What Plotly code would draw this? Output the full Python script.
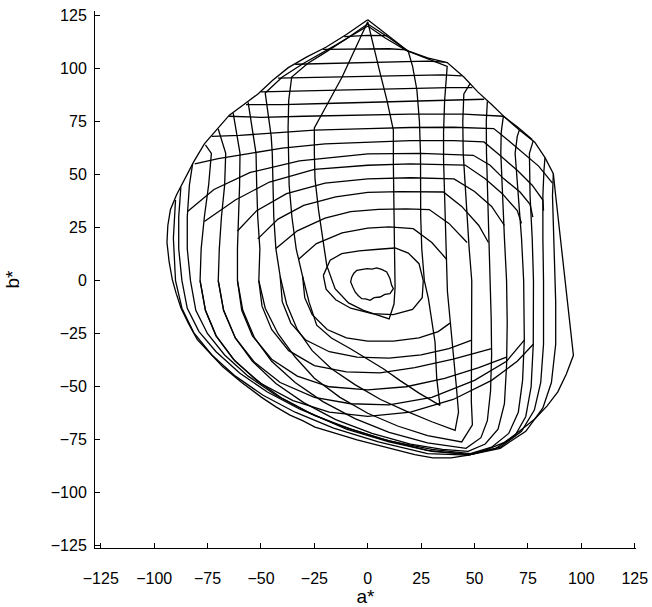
import plotly.graph_objects as go

# ---- data (a*, b*) ----
boundary_ab = [(0,123),(10,115),(18.8,108.3),(28,105),(37.2,102.8),(45,96),(51.4,89.1),(58,83),(64,77.2),(71,71),(78.2,65.3),(83,58),(86.9,50.4),(88,40),(89.1,30),(90.2,20),(91.3,10),(92.4,0),(93.5,-10),(94.5,-20),(95.5,-28),(96.3,-35.2),(93,-44),(89,-52.4),(84,-59),(78.2,-65.2),(71,-71),(64,-76.2),(56,-79.5),(47.2,-82.2),(39,-83.5),(30.5,-83.5),(22,-82),(13.8,-79.8),(4,-77.5),(-5,-75),(-15,-72),(-24.7,-69),(-30.5,-66),(-36.4,-63.4),(-43,-59.5),(-49.7,-55),(-59,-48),(-68,-40.5),(-74,-34),(-79.8,-27.8),(-84,-20),(-87.4,-13),(-89.7,-6),(-91.5,0.5),(-93,9),(-94,18),(-93.6,26),(-92.4,33.4),(-89.5,40.5),(-85.7,48),(-81.5,56),(-76.5,64.5),(-71,71),(-64.8,78),(-58,83),(-51.4,88),(-44.5,94.5),(-37.2,100.4),(-28.5,105.5),(-19.6,110),(-10,116),(0,123)]

ring_c1 = [(-7.5,1.7),(-6.5,3.5),(-5.1,4.9),(-2.5,5.2),(-0.3,5.7),(2,5.4),(4.2,6.0),(6.5,5.3),(8.9,4.1),(10.4,1.0),(11.2,-2.2),(12.0,-3.8),(10.4,-6.1),(8,-6.5),(5.8,-7.7),(3,-8.0),(1.1,-9.3),(-1,-8.6),(-2.8,-8.5),(-4.5,-7),(-5.9,-5.3),(-7,-3),(-8,-0.6),(-7.5,1.7)]
ring_c2 = [(-20.8,2.5),(-17.6,9.6),(-12.2,12.7),(-4,14),(5,14.8),(12.8,15.4),(19,13),(24,8),(26,0),(25.5,-8),(21,-13.5),(12,-16),(2,-15.5),(-8,-13),(-15,-9),(-19.5,-4),(-20.8,2.5)]

v_line_1 = [(0,122),(-6,109),(-12,96),(-18.5,84),(-25,72),(-25,60),(-24.7,48),(-23,33),(-20.8,18),(-19.2,7.2),(-15.3,-3.8),(-9,-10.5),(-2,-14),(4,-16),(10,-18),(12.3,-11),(12.8,-3),(12.6,10),(12.3,25),(12,40),(12,55),(12,71),(9,85),(5.5,99),(2.5,111),(0,122)]
v_line_2 = [(0,121),(-10,114),(-20,107.5),(-28,102.5),(-35.6,96),(-37,85),(-37.3,72),(-37.2,60),(-36.8,45),(-35.5,30),(-33.5,15),(-30.5,2),(-27.5,-10),(-23.9,-21),(-17,-27),(-8.3,-32),(0,-37),(7.3,-41.5),(15,-47),(24,-53),(33.8,-58.8),(32.8,-50),(32.3,-46.2),(31.5,-28.9),(30,-17.9),(28.4,-8.5),(26.5,0),(25.3,15),(24.8,30),(24.7,45),(24.7,60),(24.2,75),(23,90),(21,101),(19,108),(10,114.5),(0,121)]
v_line_3 = [(0,120),(-15,111),(-30,102.5),(-40,96),(-48,88.5),(-46.5,78),(-45.2,68),(-44.7,60),(-44.5,45),(-44,30),(-43,15),(-41,2),(-38,-11),(-33,-23),(-26,-33),(-17,-41.5),(-6,-49),(6,-56),(18,-61.5),(30,-66.5),(40.9,-70.6),(42.5,-62),(41.5,-50),(40,-35),(38.5,-20),(37.3,-5),(37,5),(36.5,20),(36,40),(35.5,57),(35.5,70),(36,85),(37.2,101),(28,104.5),(18,108.5),(8,114.5),(0,120)]
v_line_4 = [(-56,84),(-54,72),(-52.3,60),(-52,45),(-51.5,30),(-50.5,15),(-51,0),(-48,-13),(-42,-25),(-34,-36),(-25,-46),(-13,-55),(0,-62.5),(14,-68.5),(28,-73),(44,-76),(49,-68),(48.5,-57),(48.5,-45),(48.7,-32),(48.8,-15),(48.7,0),(47.5,15),(46.5,30),(45.5,45),(44.7,60),(44.5,75),(45,88),(48,93)]
v_line_5 = [(-63,79),(-61,68),(-59.8,60),(-60,45),(-60.5,30),(-61,15),(-61,0),(-58.5,-14),(-53,-27),(-45,-38),(-34,-48),(-21,-57),(-6,-65),(10,-71.5),(28,-76.5),(46,-79),(53,-74),(56,-66),(57.5,-52),(58,-35),(57.8,-18),(57.3,0),(56.5,20),(56,40),(55.6,60),(55.5,75),(56,84.5)]
v_line_6 = [(-70,71.5),(-68,65),(-66.5,60),(-67,45),(-68.5,30),(-69.5,15),(-70,0),(-67.5,-14),(-62,-27),(-54,-38),(-43,-48.5),(-30,-57.5),(-15,-65.5),(2,-72),(20,-77),(35,-79.5),(47,-80.5),(55,-77),(61,-70),(64,-58),(65,-40),(65.3,-20),(65,0),(64,20),(63,40),(62.3,60),(62.5,70),(63.5,77.5)]
v_line_7 = [(-76,64),(-74.5,62),(-73.2,60),(-74.5,45),(-76.5,30),(-78,15),(-78.5,0),(-76,-14),(-71,-26),(-63,-37),(-52,-47),(-40,-55.5),(-25,-63.5),(-8,-70),(10,-75.5),(30,-79.5),(48,-81.5),(58,-78.5),(66,-72),(70.5,-62),(72.5,-47),(73.3,-28),(73,-10),(73,0),(72,20),(70.5,40),(69,60),(70,68),(71,71)]
v_line_8 = [(-82,55),(-83.5,45),(-84.5,30),(-84.5,15),(-83,0),(-80.5,-14),(-75,-25),(-67,-35),(-56,-45),(-43,-54),(-28,-62),(-10,-70),(10,-76),(30,-80.5),(48,-82),(60,-79),(69,-73),(74,-64),(76.5,-50),(77.5,-30),(77.6,0),(77,20),(76,40),(75.7,60),(77.5,66)]
v_line_9 = [(-87.5,44),(-88.5,30),(-88.5,15),(-87,0),(-84.5,-13),(-79,-24),(-71,-33.5),(-60,-43.5),(-47,-52.5),(-32,-60.5),(-14,-68),(6,-74.5),(28,-80),(48,-82),(62,-78.5),(72,-71),(78,-61),(81,-48),(82.3,-30),(82.5,-10),(82.3,0),(82,20),(82,40),(82.5,52),(83,58)]
v_line_10 = [(-90,38),(-91,20),(-90,0),(-87,-13),(-81.5,-24.5),(-73,-35),(-62,-45),(-49,-54),(-34,-62),(-16,-69.5),(5,-76),(28,-81.5),(47,-82.2),(62,-79),(74,-71),(82,-60),(86,-48),(88,-30),(88,-10),(87.7,0),(87,20),(86.5,40),(86.9,50.4)]

h_top_3 = [(-32.5,10),(-24,17.5),(-12,22.5),(0,24.8),(10,25.4),(21.3,24.5),(30,18),(37,10)]
h_top_4 = [(-43,15.2),(-33,23.5),(-20,29.5),(-8,32.5),(5,33.6),(18,33.8),(28.8,33.5),(38,27),(46.5,18)]
h_top_5 = [(-51.5,19.7),(-42,29),(-30,35.5),(-15,39.5),(0,41.6),(15,42),(35.4,41.8),(44,35),(52,26),(56.5,18)]
h_top_6 = [(-61,23.4),(-52,33),(-38,41),(-20,46),(0,48),(20,48.5),(40.4,48),(50,42),(58,35),(64,26)]
h_top_7 = [(-76.5,27.9),(-62,38),(-46,46.5),(-25,52.5),(0,54.4),(20,55),(45.6,54.5),(55,48),(63,41),(70,33),(72,27)]
h_top_8 = [(-84.5,32.5),(-72,43),(-55,51),(-32,56.5),(0,59.8),(25,60),(49.4,59.1),(57.3,54.4),(63.6,48.1),(71.3,41.8),(76,36),(77.3,30)]
h_top_9 = [(-81,55),(-70,57.5),(-55,60),(-40,62.5),(-20,64.5),(0,65.4),(20,66),(40,66),(54.4,65.4),(62,59),(70,52),(77,45),(82,38),(82.3,33)]
h_top_10 = [(-73,68),(-60,68.5),(-45,69.5),(-25,71),(0,71.7),(20,72.2),(40,72.3),(59,71.7),(66,66),(73,60),(80,54),(86.5,46)]
h_top_11 = [(-65,77.5),(-50,77),(-30,77.5),(0,78),(20,78.5),(45,78.5),(63.5,77.5),(70,72.5),(77,66.5)]
h_top_12 = [(-57,83),(-40,83),(-20,83.5),(0,84),(20,84.5),(40,85),(54.5,85.5)]
h_top_13 = [(-50,89),(-30,89.5),(0,90),(20,90.5),(38,91),(49,91)]
h_top_14 = [(-42,95.5),(-20,96),(0,96.4),(20,96.8),(35,97),(44,96.5)]
h_top_15 = [(-34,102),(-15,102.5),(0,102.8),(15,103),(28,103.5),(36,103)]
h_top_16 = [(-21,109),(-10,109),(0,109.2),(10,109.3),(18.5,108.8)]
h_top_17 = [(-11,115),(0,115.6),(9,115.5)]

h_bot_3 = [(-30.5,2),(-29.5,-8),(-26,-16),(-19,-23),(-10,-27),(0,-28.5),(12,-28.5),(24,-27),(33,-24),(38.5,-20)]
h_bot_4 = [(-41,2),(-40,-10),(-36,-20),(-29,-28),(-18,-33.5),(-5,-36),(10,-36.5),(25,-35),(38,-32),(48.7,-28)]
h_bot_5 = [(-51,0),(-49.5,-12),(-45,-23),(-37,-33),(-25,-40),(-10,-43),(5.7,-43.5),(22,-41),(40,-37),(58,-32)]
h_bot_6 = [(-61,0),(-59,-14),(-54,-26),(-45,-37),(-33,-45),(-18,-50),(0,-51.5),(18,-50),(36,-46),(52,-41),(65,-36)]
h_bot_7 = [(-70,0),(-67.5,-14),(-62,-27),(-53,-38.5),(-41,-48),(-25,-55),(-8,-58),(10,-58.5),(30,-55),(50,-47),(65,-38),(73.3,-28)]
h_bot_8 = [(-78.5,0),(-76,-14),(-71,-26),(-62,-38),(-50,-48.5),(-35,-56.5),(-18,-62),(0,-64),(20,-62),(40,-56),(58,-47),(70,-38),(77.5,-30)]

curves = [boundary_ab, ring_c1, ring_c2,
          v_line_1, v_line_2, v_line_3, v_line_4, v_line_5, v_line_6, v_line_7, v_line_8, v_line_9, v_line_10,
          h_top_3, h_top_4, h_top_5, h_top_6, h_top_7, h_top_8, h_top_9, h_top_10, h_top_11, h_top_12,
          h_top_13, h_top_14, h_top_15, h_top_16, h_top_17,
          h_bot_3, h_bot_4, h_bot_5, h_bot_6, h_bot_7, h_bot_8]

tick_vals = [-125, -100, -75, -50, -25, 0, 25, 50, 75, 100, 125]

fig = go.Figure()
for c in curves:
    fig.add_trace(go.Scatter(x=[p[0] for p in c], y=[p[1] for p in c], mode="lines",
                             line=dict(color="black", width=1.3), hoverinfo="skip", showlegend=False))

font_family = "Liberation Sans, Arial, sans-serif"
axis_common = dict(showgrid=False, zeroline=False, showline=True, linecolor="black", linewidth=1,
                   ticks="inside", ticklen=5, tickwidth=1, tickcolor="black", tickvals=tick_vals,
                   tickfont=dict(family=font_family, size=16, color="black"),
                   mirror=False, automargin=False)
fig.update_layout(
    width=652, height=607,
    margin=dict(l=95, r=16, t=11, b=59),
    paper_bgcolor="white", plot_bgcolor="white",
    font=dict(family=font_family, size=16, color="black"),
    xaxis=dict(range=[-127.7, 125.6], title=dict(text="a*", standoff=4), ticklabelstandoff=16, **axis_common),
    yaxis=dict(range=[-126, 127.1], title=dict(text="b*", standoff=26), ticklabelstandoff=4, **axis_common),
)
fig.write_html("out.html", config={"displayModeBar": False},
               post_script="document.body.style.margin='0px';document.body.style.overflow='hidden';")
